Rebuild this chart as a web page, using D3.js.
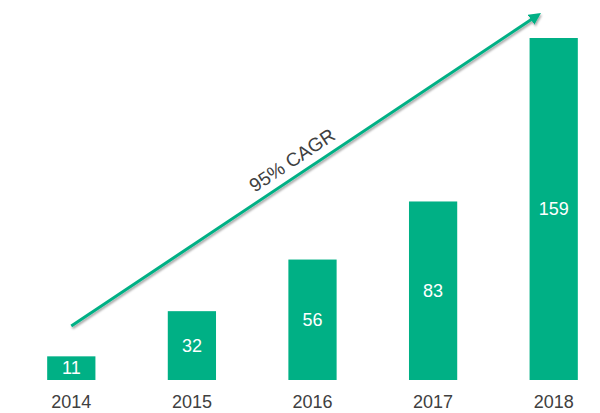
<!DOCTYPE html>
<html><head><meta charset="utf-8">
<script src="https://cdn.jsdelivr.net/npm/d3@7"></script>
<style>html,body{margin:0;padding:0;background:#fff;}svg{display:block;}</style>
</head><body>
<svg id="c" width="600" height="413"></svg>
<script>
const years = ["2014","2015","2016","2017","2018"];
const values = [11, 32, 56, 83, 159];
const cagrLabel = "95% CAGR";

const svg = d3.select("#c");
const green = "#00B085";
const baseY = 380;
const x = d3.scaleBand().domain(years).range([11, 614]).paddingInner(0.6).paddingOuter(0.3);
const y = d3.scaleLinear().domain([0, 159]).range([baseY, 38]);

const defs = svg.append("defs");
const f = defs.append("filter").attr("id","sh").attr("x","-10%").attr("y","-10%").attr("width","130%").attr("height","130%");
f.append("feDropShadow").attr("dx",1).attr("dy",2).attr("stdDeviation",1.2).attr("flood-color","#000").attr("flood-opacity",0.35);
defs.append("marker").attr("id","ah").attr("viewBox","0 0 10 10").attr("refX",7).attr("refY",5)
  .attr("markerWidth",4).attr("markerHeight",4).attr("orient","auto")
  .append("path").attr("d","M0,0L10,5L0,10z").attr("fill",green);

// bars
svg.selectAll("rect.bar").data(values).join("rect").attr("class","bar")
  .attr("x",(d,i)=>x(years[i])).attr("width",x.bandwidth())
  .attr("y",d=>y(d)).attr("height",d=>baseY-y(d)).attr("fill",green);

// axis line
const ax = svg.append("g").attr("transform",`translate(0,${baseY})`)
  .call(d3.axisBottom(x).tickSize(0).tickPadding(15));
ax.select(".domain").attr("d","M12,1H600").attr("stroke",green).attr("stroke-width",2).attr("filter","url(#sh)");
ax.selectAll("text").attr("font-family","Liberation Sans, Arial, sans-serif").attr("font-size",18).attr("fill","#404040");

// value labels
svg.selectAll("text.val").data(values).join("text").attr("class","val")
  .attr("x",(d,i)=>x(years[i])+x.bandwidth()/2).attr("y",d=>(y(d)+baseY)/2)
  .attr("dy","0.35em").attr("text-anchor","middle")
  .attr("font-family","Liberation Sans, Arial, sans-serif").attr("font-size",18).attr("fill","#fff")
  .text(d=>d);

// CAGR arrow
const x0 = x(years[0])+x.bandwidth()/2, y0 = 326, x1 = 538, y1 = 15;
svg.append("line").attr("x1",x0).attr("y1",y0).attr("x2",x1).attr("y2",y1)
  .attr("stroke",green).attr("stroke-width",3).attr("marker-end","url(#ah)").attr("filter","url(#sh)");
const ang = Math.atan2(y1-y0, x1-x0)*180/Math.PI;
svg.append("text").attr("transform",`translate(292,160) rotate(${ang})`)
  .attr("text-anchor","middle").attr("dy","0.35em")
  .attr("font-family","Liberation Sans, Arial, sans-serif").attr("font-size",19).attr("fill","#404040")
  .text(cagrLabel);
</script>
</body></html>
